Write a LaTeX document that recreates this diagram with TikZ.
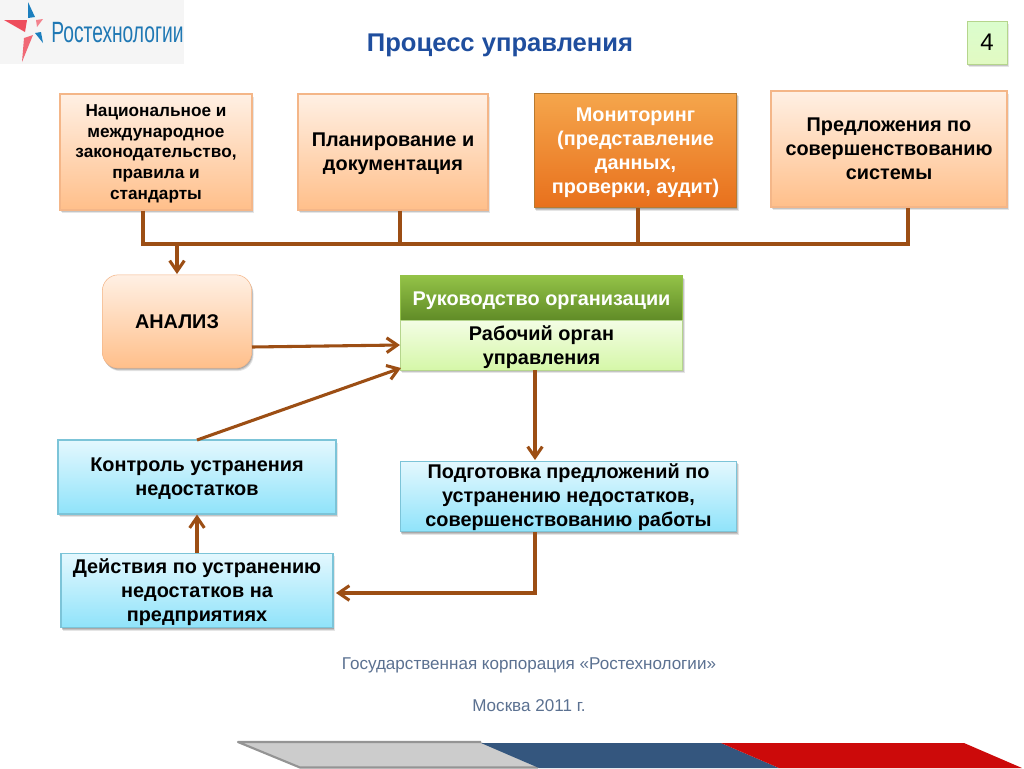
\documentclass[tikz,border=0pt]{standalone}
\usepackage{fontspec}
\setmainfont{Liberation Sans}
\usetikzlibrary{arrows.meta,shadows,calc}
\definecolor{arrowc}{HTML}{9C4E14}
\definecolor{orlo}{HTML}{FFBF8A}
\definecolor{orhi}{HTML}{FFF0E4}
\definecolor{orline}{HTML}{F4B688}
\definecolor{blhi}{HTML}{E4F8FE}
\definecolor{bllo}{HTML}{8FE3FA}
\definecolor{blline}{HTML}{7CC4D8}
\definecolor{mohi}{HTML}{F5A64C}
\definecolor{molo}{HTML}{E8701C}
\definecolor{moline}{HTML}{B87A30}
\definecolor{grhi}{HTML}{93C247}
\definecolor{grlo}{HTML}{5F8A26}
\definecolor{lghi}{HTML}{F3FDE4}
\definecolor{lglo}{HTML}{D5F7A8}
\definecolor{lgline}{HTML}{B5D58C}
\definecolor{foot}{HTML}{5B7191}
\definecolor{titlec}{HTML}{1F4E9E}
\definecolor{logoc}{HTML}{1F78B4}
\definecolor{starb}{HTML}{1C7FBE}
\definecolor{starr}{HTML}{EE4D5C}
\definecolor{bandblue}{HTML}{34567E}
\definecolor{bandred}{HTML}{CC0A0A}
\newcommand{\fs}[1]{\fontsize{#1}{#1}\selectfont}
\tikzset{
  x=0.75pt,y=-0.75pt,
  softshadow/.style={
    drop shadow={shadow xshift=0.4pt,shadow yshift=-0.8pt,fill=black,opacity=0.14},
    drop shadow={shadow xshift=0.9pt,shadow yshift=-1.5pt,fill=black,opacity=0.14},
    drop shadow={shadow xshift=1.4pt,shadow yshift=-2.2pt,fill=black,opacity=0.10}},
  lines/.style={execute at begin node={\setlength{\baselineskip}{#1}}},
  boxbase/.style={rectangle,inner sep=1pt,align=center,font=\bfseries\fs{14.9},softshadow,line width=0.8pt,lines=18pt},
  orangebox/.style={boxbase,draw=orline,top color=orhi,bottom color=orlo},
  bluebox/.style={boxbase,draw=blline,top color=blhi,bottom color=bllo},
  wire/.style={draw=arrowc,line width=2.3pt},
  arrowline/.style={wire,-{Straight Barb[length=8pt,width=11pt,line width=2.3pt]}},
}
\begin{document}
\begin{tikzpicture}
\useasboundingbox (0,0) rectangle (1024,768);
\fill[white] (0,0) rectangle (1024,768);
% logo
\fill[black!4] (0,0) rectangle (184,64);
\fill[starb] (28,2) -- (35,17) -- (28,18) -- cycle;
\fill[starr] (4,20) -- (27,20) -- (25,32) -- cycle;
\fill[starr!70!white] (36,20) -- (43,19) -- (37,27) -- cycle;
\fill[starb] (35,33) -- (41,32) -- (43,43) -- cycle;
\fill[starr!85!white] (22,62) -- (24,38) -- (33,35) -- cycle;
\node[text=logoc,font=\fs{22},xscale=0.655,inner sep=0pt] (logo) at (117.5,33) {Ростехнологии};
% title and page number
\node[text=titlec,font=\bfseries\fs{19.2},inner sep=0pt] (title) at (500,45.5) {Процесс управления};
\node[draw=lgline,top color=lghi!90!green,bottom color=lglo!70!white,softshadow,rectangle,minimum width=30pt,minimum height=32pt,inner sep=0pt,font=\fs{18}] (num) at (987,42.5) {4};
% top row
\node[orangebox,minimum width=144pt,minimum height=87pt,font=\bfseries\fs{12.9},lines=15.5pt,text depth=-2pt] (n1) at (156,152) {Национальное и\\международное\\законодательство,\\правила и\\стандарты};
\node[orangebox,minimum width=142.5pt,minimum height=87pt,text depth=-1.4pt] (n2) at (393,152) {Планирование и\\документация};
\node[boxbase,draw=moline,top color=mohi,bottom color=molo,minimum width=152pt,minimum height=86pt,text=white,text depth=-3pt] (n3) at (635.5,150.5) {Мониторинг\\(представление\\данных,\\проверки, аудит)};
\node[orangebox,minimum width=177pt,minimum height=87pt,text depth=-4.5pt] (n4) at (889,149) {Предложения по\\совершенствованию\\системы};
% middle
\node[rectangle,rounded corners=12pt,draw=orline,top color=orhi,bottom color=orlo,softshadow,minimum width=112pt,minimum height=70pt,font=\bfseries\fs{14.9},text depth=-3pt] (an) at (177,321.5) {АНАЛИЗ};
\node[boxbase,draw=grhi,top color=grhi,bottom color=grlo,minimum width=212pt,minimum height=34pt,text=white,text depth=-4pt] (ruk) at (541.5,298.5) {Руководство организации};
\node[boxbase,draw=lgline,top color=lghi,bottom color=lglo,minimum width=212pt,minimum height=37pt,text depth=-0.7pt] (rab) at (541.5,345.5) {Рабочий орган\\управления};
% blue
\node[bluebox,minimum width=208.5pt,minimum height=55.5pt,text depth=-2.1pt] (kon) at (197,477) {Контроль устранения\\недостатков};
\node[bluebox,minimum width=252.5pt,minimum height=53pt,text depth=1.6pt] (pod) at (568.5,496.5) {Подготовка предложений по\\устранению недостатков,\\совершенствованию работы};
\node[bluebox,minimum width=204pt,minimum height=56pt,text depth=-0.7pt] (dei) at (197,590.5) {Действия по устранению\\недостатков на\\предприятиях};
% connectors
\coordinate (busL) at (143,244);
\coordinate (busR) at (908,244);
\coordinate (busA) at (177,244);
\coordinate (busB) at (400,244);
\coordinate (busC) at (638,244);
\coordinate (anIn) at (177,274);
\coordinate (rabIn) at (400,345);
\coordinate (rabIn2) at (401,368);
\coordinate (anOut) at (252,347);
\coordinate (konOut) at (197,440);
\coordinate (rabOut) at (535,370);
\coordinate (podIn) at (535,460);
\coordinate (podOut) at (535,532);
\coordinate (corner) at (535,593);
\coordinate (deiIn) at (336,593);
\draw[wire,line join=miter] (n1.south -| busL) -- (busL) -- (busR) -- (n4.south -| busR);
\draw[wire] (n2.south -| busB) -- (busB);
\draw[wire] (n3.south -| busC) -- (busC);
\draw[arrowline] (busA) -- (anIn);
\draw[arrowline] (anOut) -- (rabIn);
\draw[arrowline] (konOut) -- (rabIn2);
\draw[arrowline] (rabOut) -- (podIn);
\draw[arrowline] (podOut) -- (corner) -- (deiIn);
\draw[arrowline] (dei.north) -- (kon.south);
% footer
\node[text=foot,font=\fs{12.8},inner sep=0pt] (f1) at (529,665) {Государственная корпорация «Ростехнологии»};
\node[text=foot,font=\fs{12.8},inner sep=0pt] (f2) at (529,705.5) {Москва 2011 г.};
% bottom band
\fill[black!20] (238,742) -- (481,742) -- (539,768) -- (300,768) -- cycle;
\draw[black!42,line width=1.6pt,line join=round] (538,767.5) -- (300,767.5) -- (238,742) -- (481,742);
\fill[bandblue] (481,743) -- (721,743) -- (779,768) -- (539,768) -- cycle;
\fill[bandred] (721,743) -- (964,743) -- (1022,768) -- (779,768) -- cycle;
\end{tikzpicture}
\end{document}
